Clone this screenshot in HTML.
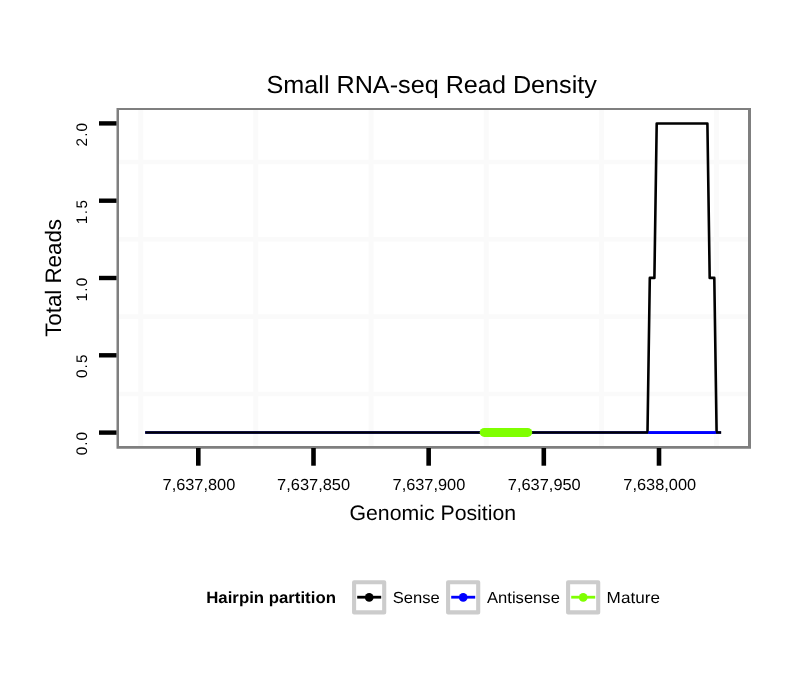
<!DOCTYPE html>
<html><head><meta charset="utf-8"><title>Small RNA-seq Read Density</title>
<style>
html,body{margin:0;padding:0;background:#fff;}
svg{display:block;}
text{font-family:"Liberation Sans",sans-serif;fill:#000;text-rendering:geometricPrecision;}
</style></head>
<body>
<svg width="810" height="690" viewBox="0 0 810 690">
<rect x="0" y="0" width="810" height="690" fill="#ffffff"/>
<!-- minor gridlines -->
<g stroke="#fafafa" stroke-width="5" fill="none">
<line x1="119" x2="748" y1="162" y2="162" stroke-width="4.6"/>
<line x1="119" x2="748" y1="239.3" y2="239.3" stroke-width="4.6"/>
<line x1="119" x2="748" y1="316.6" y2="316.6" stroke-width="4.6"/>
<line x1="119" x2="748" y1="394" y2="394" stroke-width="4.6"/>
<line y1="110" y2="446" x1="140.8" x2="140.8"/>
<line y1="110" y2="446" x1="255.8" x2="255.8"/>
<line y1="110" y2="446" x1="371.1" x2="371.1"/>
<line y1="110" y2="446" x1="486.3" x2="486.3"/>
<line y1="110" y2="446" x1="601.5" x2="601.5"/>
<line y1="110" y2="446" x1="716.6" x2="716.6"/>
</g>
<!-- data lines -->
<line x1="145.2" x2="721" y1="432.5" y2="432.5" stroke="#0000ff" stroke-width="2.6"/>
<polyline fill="none" stroke="#000" stroke-width="2.6" stroke-linejoin="round" points="145.2,432.5 647.5,432.5 649.8,277.9 654.4,277.9 656.7,123.5 707.4,123.5 709.7,277.9 714.3,277.9 716.6,432.5 721.2,432.5"/>
<line x1="648.4" x2="715.8" y1="432.6" y2="432.6" stroke="#0000ff" stroke-width="2.6"/>
<line x1="484.2" x2="527.7" y1="432.4" y2="432.4" stroke="#7fff00" stroke-width="9" stroke-linecap="round"/>
<!-- panel border -->
<path d="M116.5 108H751V448.7H116.5Z M119 110.1V446H748V110.1Z" fill="#7f7f7f" fill-rule="evenodd"/>
<!-- y ticks -->
<g stroke="#000" stroke-width="4.4">
<line x1="99" x2="116.5" y1="123.4" y2="123.4"/>
<line x1="99" x2="116.5" y1="200.7" y2="200.7"/>
<line x1="99" x2="116.5" y1="278" y2="278"/>
<line x1="99" x2="116.5" y1="355.3" y2="355.3"/>
<line x1="99" x2="116.5" y1="432.6" y2="432.6"/>
</g>
<!-- x ticks -->
<g stroke="#000" stroke-width="4.6">
<line y1="448" y2="465.7" x1="198.3" x2="198.3"/>
<line y1="448" y2="465.7" x1="313.5" x2="313.5"/>
<line y1="448" y2="465.7" x1="428.65" x2="428.65"/>
<line y1="448" y2="465.7" x1="543.8" x2="543.8"/>
<line y1="448" y2="465.7" x1="659.0" x2="659.0"/>
</g>
<!-- y tick labels -->
<g>
<text transform="translate(87.40,146.45) rotate(-90)" font-size="15.3" textLength="23.45" lengthAdjust="spacing">2.0</text>
<text transform="translate(87.40,224.18) rotate(-90)" font-size="15.3" textLength="24.19" lengthAdjust="spacing">1.5</text>
<text transform="translate(87.40,301.41) rotate(-90)" font-size="15.3" textLength="23.81" lengthAdjust="spacing">1.0</text>
<text transform="translate(87.40,378.00) rotate(-90)" font-size="15.3" textLength="23.52" lengthAdjust="spacing">0.5</text>
<text transform="translate(87.40,455.25) rotate(-90)" font-size="15.3" textLength="23.22" lengthAdjust="spacing">0.0</text>
</g>
<!-- x tick labels -->
<g>
<text x="162.55" y="490.00" font-size="16" textLength="72.73" lengthAdjust="spacingAndGlyphs">7,637,800</text>
<text x="277.08" y="490.00" font-size="16" textLength="72.98" lengthAdjust="spacingAndGlyphs">7,637,850</text>
<text x="392.57" y="490.00" font-size="16" textLength="72.72" lengthAdjust="spacingAndGlyphs">7,637,900</text>
<text x="507.87" y="490.00" font-size="16" textLength="72.86" lengthAdjust="spacingAndGlyphs">7,637,950</text>
<text x="623.37" y="490.00" font-size="16" textLength="72.71" lengthAdjust="spacingAndGlyphs">7,638,000</text>
</g>
<!-- titles -->
<text x="266.49" y="92.50" font-size="24.6" textLength="330.42" lengthAdjust="spacingAndGlyphs">Small RNA-seq Read Density</text>
<text x="349.44" y="520.00" font-size="21" textLength="166.67" lengthAdjust="spacingAndGlyphs">Genomic Position</text>
<text transform="translate(61.20,336.85) rotate(-90)" font-size="22.4" textLength="117.89" lengthAdjust="spacing">Total Reads</text>
<!-- legend -->
<text x="206.21" y="602.90" font-size="16.2" textLength="129.71" lengthAdjust="spacingAndGlyphs" font-weight="bold">Hairpin partition</text>
<g transform="translate(0,0)"><rect x="354.1" y="582.3" width="30.1" height="30.1" fill="#fff" stroke="#cccccc" stroke-width="4.1" stroke-linejoin="round"/><line x1="357.2" x2="381.2" y1="597.2" y2="597.2" stroke="#000000" stroke-width="2.8"/><circle cx="369.2" cy="597.4" r="4.3" fill="#000000"/></g>
<g transform="translate(94,0)"><rect x="354.1" y="582.3" width="30.1" height="30.1" fill="#fff" stroke="#cccccc" stroke-width="4.1" stroke-linejoin="round"/><line x1="357.2" x2="381.2" y1="597.2" y2="597.2" stroke="#0000ff" stroke-width="2.8"/><circle cx="369.2" cy="597.4" r="4.3" fill="#0000ff"/></g>
<g transform="translate(214,0)"><rect x="354.1" y="582.3" width="30.1" height="30.1" fill="#fff" stroke="#cccccc" stroke-width="4.1" stroke-linejoin="round"/><line x1="357.2" x2="381.2" y1="597.2" y2="597.2" stroke="#7fff00" stroke-width="2.8"/><circle cx="369.2" cy="597.4" r="4.3" fill="#7fff00"/></g>
<g>
<text x="392.67" y="603.00" font-size="16" textLength="47.05" lengthAdjust="spacingAndGlyphs">Sense</text>
<text x="486.99" y="603.00" font-size="16" textLength="72.89" lengthAdjust="spacingAndGlyphs">Antisense</text>
<text x="606.63" y="603.00" font-size="16" textLength="53.31" lengthAdjust="spacingAndGlyphs">Mature</text>
</g>
</svg>
</body></html>
